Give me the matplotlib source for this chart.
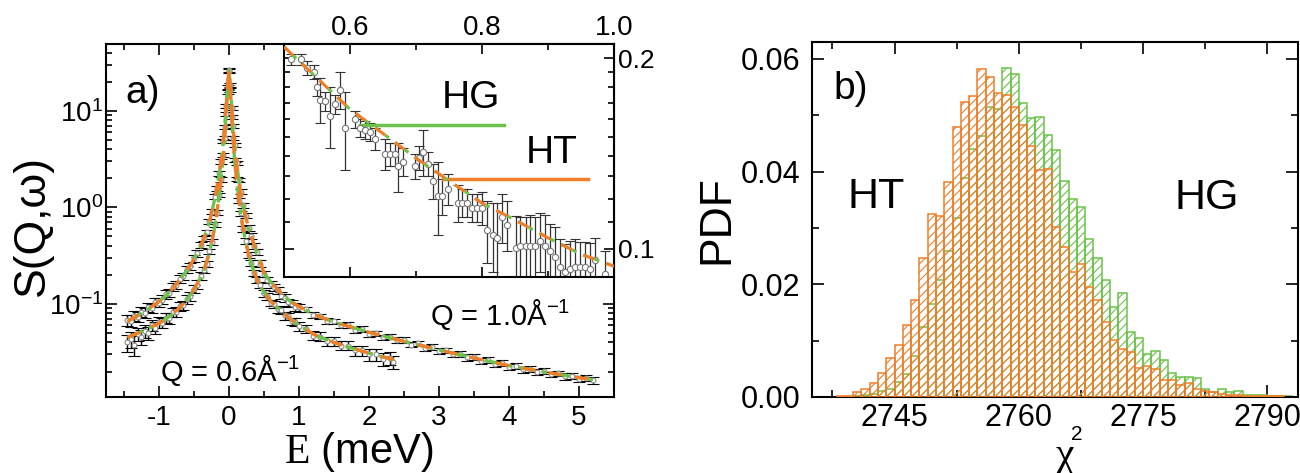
import matplotlib
matplotlib.use("Agg")
import matplotlib.pyplot as plt
from matplotlib import ticker

plt.rcParams['font.family'] = 'Liberation Sans'
plt.rcParams['mathtext.fontset'] = 'custom'
plt.rcParams['mathtext.rm'] = 'Liberation Serif'
plt.rcParams['axes.unicode_minus'] = False
plt.rcParams['hatch.linewidth'] = 0.8

ORANGE = '#f07d28'
GREEN = '#6cc24a'

# ---- panel a: data points, Q = 1.0 A^-1 ----
e_q10 = [-1.45, -1.40, -1.35, -1.30, -1.25, -1.20, -1.15, -1.10, -1.05, -1.00, -0.95,
         -0.90, -0.85, -0.80, -0.75, -0.70, -0.65, -0.60, -0.55, -0.50, -0.45, -0.40,
         -0.36, -0.32, -0.28, -0.24, -0.20, -0.17, -0.14, -0.11, -0.08, -0.06, -0.04,
         -0.02, 0.00, 0.02, 0.04, 0.06, 0.08, 0.11, 0.14, 0.17, 0.20, 0.24, 0.28, 0.32, 0.36,
         0.40, 0.45, 0.50, 0.55, 0.60, 0.65, 0.70, 0.75, 0.80, 0.85, 0.90, 0.95, 1.00,
         1.1, 1.2, 1.3, 1.4, 1.5, 1.6, 1.7, 1.8, 1.9, 2.0, 2.1, 2.2, 2.3, 2.4, 2.5, 2.6,
         2.7, 2.8, 2.9, 3.0, 3.1, 3.2, 3.3, 3.4, 3.5, 3.6, 3.7, 3.8, 3.9, 4.0, 4.1, 4.2,
         4.3, 4.4, 4.5, 4.6, 4.7, 4.8, 4.9, 5.0, 5.1, 5.2]
s_q10 = [0.068, 0.067, 0.075, 0.074, 0.083, 0.081, 0.092, 0.090, 0.104, 0.103, 0.111,
         0.126, 0.130, 0.150, 0.157, 0.182, 0.193, 0.229, 0.246, 0.297, 0.333, 0.410,
         0.48, 0.55, 0.72, 0.90, 1.29, 1.58, 2.25, 3.0, 4.9, 6.8, 11.3,
         17.5, 26.5, 18.4, 10.7, 7.0, 4.4, 2.9, 1.91, 1.45, 1.05, 0.82, 0.61, 0.51, 0.40,
         0.345, 0.262, 0.205, 0.178, 0.160, 0.149, 0.139, 0.122, 0.116, 0.104, 0.101, 0.093, 0.092,
         0.088, 0.077, 0.075, 0.067, 0.066, 0.060, 0.061, 0.054, 0.055, 0.049, 0.050, 0.045,
         0.046, 0.042, 0.042, 0.038, 0.039, 0.035, 0.036, 0.0325, 0.033, 0.030, 0.0305,
         0.028, 0.0282, 0.0258, 0.0262, 0.0240, 0.0244, 0.0222, 0.0228, 0.0210, 0.0214,
         0.0199, 0.0203, 0.0187, 0.0191, 0.0178, 0.0181, 0.0169, 0.0172, 0.0162]
ds_q10 = [0.009, 0.009, 0.009, 0.009, 0.010, 0.010, 0.010, 0.010, 0.011, 0.011, 0.012,
          0.013, 0.013, 0.014, 0.015, 0.016, 0.017, 0.019, 0.021, 0.024, 0.027, 0.031,
          0.03, 0.035, 0.04, 0.05, 0.07, 0.09, 0.12, 0.16, 0.25, 0.35, 0.55,
          0.9, 1.3, 0.9, 0.55, 0.35, 0.23, 0.15, 0.10, 0.08, 0.06, 0.05, 0.04, 0.035, 0.03,
          0.025, 0.02, 0.015, 0.014, 0.013, 0.012, 0.011, 0.010, 0.010, 0.009, 0.009, 0.009, 0.009,
          0.005, 0.005, 0.0045, 0.0045, 0.004, 0.004, 0.004, 0.0035, 0.0035, 0.003, 0.003,
          0.003, 0.003, 0.003, 0.003, 0.0025, 0.0025, 0.0025, 0.0025, 0.0022, 0.0022, 0.002,
          0.002, 0.002, 0.002, 0.0018, 0.0018, 0.0017, 0.0017, 0.0016, 0.0016, 0.0015,
          0.0015, 0.0014, 0.0014, 0.0013, 0.0013, 0.0013, 0.0012, 0.0012, 0.0012, 0.0012]

# ---- panel a: data points, Q = 0.6 A^-1 ----
e_q06 = [-1.45, -1.40, -1.35, -1.30, -1.25, -1.20, -1.15, -1.10, -1.05, -1.00, -0.95,
         -0.90, -0.85, -0.80, -0.75, -0.70, -0.65, -0.60, -0.55, -0.50, -0.45, -0.40,
         -0.36, -0.32, -0.28, -0.24, -0.20, -0.17, -0.14, -0.11, -0.08, -0.06, -0.04,
         -0.02, 0.00, 0.02, 0.04, 0.06, 0.08, 0.11, 0.14, 0.17, 0.20, 0.24, 0.28, 0.32, 0.36,
         0.40, 0.45, 0.50, 0.55, 0.60, 0.65, 0.70, 0.75, 0.80, 0.85, 0.90, 0.95, 1.00,
         1.1, 1.2, 1.3, 1.4, 1.5, 1.6, 1.7, 1.8, 1.9, 2.0, 2.1, 2.2, 2.3, 2.35]
s_q06 = [0.040, 0.043, 0.038, 0.049, 0.046, 0.052, 0.050, 0.060, 0.057, 0.065, 0.064,
         0.072, 0.071, 0.082, 0.083, 0.095, 0.097, 0.113, 0.121, 0.144, 0.159, 0.196,
         0.225, 0.262, 0.35, 0.44, 0.67, 0.88, 1.34, 1.95, 3.5, 5.2, 9.3,
         15.6, 25.5, 16.4, 8.6, 5.25, 3.1, 1.96, 1.19, 0.87, 0.60, 0.45, 0.32, 0.265, 0.21,
         0.176, 0.156, 0.129, 0.120, 0.103, 0.099, 0.088, 0.086, 0.076, 0.075, 0.066, 0.065, 0.059,
         0.055, 0.047, 0.046, 0.041, 0.041, 0.037, 0.037, 0.033, 0.033, 0.030, 0.030, 0.027,
         0.0275, 0.025]
ds_q06 = [0.008, 0.008, 0.009, 0.008, 0.008, 0.008, 0.008, 0.008, 0.008, 0.008, 0.008,
          0.009, 0.009, 0.009, 0.010, 0.010, 0.011, 0.012, 0.013, 0.015, 0.016, 0.019,
          0.015, 0.018, 0.022, 0.028, 0.04, 0.05, 0.07, 0.10, 0.18, 0.27, 0.45,
          0.8, 1.2, 0.8, 0.45, 0.27, 0.17, 0.10, 0.07, 0.05, 0.04, 0.03, 0.022, 0.018, 0.015,
          0.012, 0.011, 0.010, 0.009, 0.008, 0.008, 0.007, 0.007, 0.007, 0.006, 0.006, 0.006, 0.006,
          0.005, 0.005, 0.005, 0.004, 0.004, 0.004, 0.004, 0.004, 0.004, 0.004, 0.004, 0.004,
          0.004, 0.004]

# ---- panel a: fitted curves (HT and HG coincide on this scale) ----
fit_e_q10 = [-1.45, -1.30, -1.15, -1.00, -0.90, -0.80, -0.70, -0.60, -0.50, -0.40, -0.36,
             -0.32, -0.28, -0.24, -0.20, -0.17, -0.14, -0.11, -0.08, -0.06, -0.04, -0.02,
             0.0, 0.02, 0.04, 0.06, 0.08, 0.11, 0.14, 0.17, 0.20, 0.24, 0.28, 0.32, 0.36,
             0.40, 0.45, 0.50, 0.60, 0.70, 0.80, 0.90, 1.00, 1.25, 1.5, 2.0, 2.5, 3.0, 3.5,
             4.0, 4.5, 5.0, 5.2]
fit_s_q10 = [0.066, 0.076, 0.089, 0.106, 0.122, 0.145, 0.178, 0.222, 0.290, 0.400, 0.47,
             0.57, 0.70, 0.92, 1.25, 1.62, 2.2, 3.1, 4.8, 7.0, 11, 18,
             26, 18, 11, 6.8, 4.5, 2.85, 1.95, 1.42, 1.08, 0.80, 0.62, 0.50, 0.41,
             0.34, 0.27, 0.21, 0.168, 0.140, 0.118, 0.104, 0.094, 0.076, 0.065, 0.051, 0.041,
             0.0335, 0.0276, 0.023, 0.0198, 0.0173, 0.0165]
fit_e_q06 = [-1.45, -1.30, -1.15, -1.00, -0.90, -0.80, -0.70, -0.60, -0.50, -0.40, -0.36,
             -0.32, -0.28, -0.24, -0.20, -0.17, -0.14, -0.11, -0.08, -0.06, -0.04, -0.02,
             0.0, 0.02, 0.04, 0.06, 0.08, 0.11, 0.14, 0.17, 0.20, 0.24, 0.28, 0.32, 0.36,
             0.40, 0.45, 0.50, 0.60, 0.70, 0.80, 0.90, 1.00, 1.25, 1.5, 1.75, 2.0, 2.35]
fit_s_q06 = [0.045, 0.050, 0.056, 0.063, 0.070, 0.079, 0.092, 0.110, 0.140, 0.190, 0.22,
             0.27, 0.34, 0.45, 0.65, 0.90, 1.30, 2.0, 3.4, 5.3, 9.0, 16,
             25, 16, 8.8, 5.1, 3.2, 1.9, 1.22, 0.85, 0.62, 0.44, 0.33, 0.26, 0.215,
             0.18, 0.152, 0.132, 0.106, 0.090, 0.078, 0.068, 0.060, 0.047, 0.040, 0.035,
             0.031, 0.0265]

# ---- inset: zoom of Q = 1.0 data ----
in_e = [0.510, 0.525, 0.535, 0.545, 0.550, 0.555, 0.562, 0.570, 0.577, 0.585, 0.592,
        0.608, 0.615, 0.623, 0.630, 0.638, 0.653, 0.660, 0.668, 0.673, 0.680, 0.698,
        0.705, 0.710, 0.718, 0.725, 0.733, 0.740, 0.748, 0.763, 0.770, 0.778, 0.785,
        0.793, 0.800, 0.808, 0.816, 0.823, 0.831, 0.838, 0.851, 0.858, 0.866, 0.873,
        0.881, 0.888, 0.896, 0.903, 0.911, 0.918, 0.926, 0.933, 0.941, 0.948, 0.956,
        0.963, 0.971, 0.986]
in_s = [0.199, 0.199, 0.193, 0.190, 0.180, 0.172, 0.171, 0.162, 0.169, 0.178, 0.155,
        0.160, 0.155, 0.154, 0.153, 0.149, 0.141, 0.141, 0.141, 0.135, 0.137, 0.135,
        0.139, 0.142, 0.136, 0.128, 0.121, 0.121, 0.124, 0.118, 0.118, 0.118, 0.116,
        0.116, 0.116, 0.107, 0.105, 0.104, 0.112, 0.109, 0.1004, 0.101, 0.101, 0.101,
        0.101, 0.103, 0.101, 0.0993, 0.0970, 0.0935, 0.0918, 0.0929, 0.0935, 0.0935, 0.0935,
        0.0929, 0.0958, 0.0912]
in_ds = [0.004, 0.004, 0.005, 0.005, 0.006, 0.014, 0.006, 0.018, 0.006, 0.012, 0.022,
         0.005, 0.005, 0.005, 0.005, 0.006, 0.008, 0.006, 0.006, 0.012, 0.007, 0.006,
         0.006, 0.012, 0.006, 0.008, 0.016, 0.008, 0.007, 0.008, 0.006, 0.006, 0.006,
         0.006, 0.007, 0.012, 0.013, 0.014, 0.010, 0.010, 0.012, 0.011, 0.011, 0.012,
         0.011, 0.011, 0.012, 0.010, 0.011, 0.010, 0.010, 0.010, 0.010, 0.009, 0.009,
         0.009, 0.008, 0.008]
in_fit_e = [0.50, 0.55, 0.60, 0.65, 0.70, 0.75, 0.80, 0.85, 0.90, 0.95, 1.00]
in_fit_s = [0.2083, 0.186, 0.166, 0.152, 0.139, 0.128, 0.118, 0.111, 0.104, 0.098, 0.0938]

# ---- panel b: chi^2 histograms (bin left edges, width 1) ----
ht_bins = list(range(2738, 2792))
ht_pdf = [0.0002, 0.0002, 0.0009, 0.0015, 0.0024, 0.0043, 0.0069, 0.0092, 0.0128, 0.0173,
          0.0246, 0.0324, 0.0322, 0.0381, 0.0479, 0.0524, 0.0535, 0.0582, 0.0568, 0.0540,
          0.0536, 0.0515, 0.0483, 0.0446, 0.0403, 0.0405, 0.0302, 0.0267, 0.0222, 0.0236,
          0.0196, 0.0172, 0.0133, 0.0102, 0.0085, 0.0079, 0.0051, 0.0055, 0.0050, 0.0030,
          0.0030, 0.0022, 0.0024, 0.0015, 0.0010, 0.0008, 0.0005, 0.0004, 0.0003, 0.0002,
          0.0002, 0.0002, 0.0001, 0.0001]
hg_bins = list(range(2740, 2793))
hg_pdf = [0.0002, 0.0003, 0.0005, 0.0010, 0.0014, 0.0027, 0.0041, 0.0072, 0.0124, 0.0165,
          0.0208, 0.0259, 0.0318, 0.0388, 0.0440, 0.0463, 0.0514, 0.0511, 0.0583, 0.0573,
          0.0521, 0.0496, 0.0497, 0.0465, 0.0438, 0.0383, 0.0351, 0.0337, 0.0280, 0.0246,
          0.0208, 0.0160, 0.0184, 0.0116, 0.0104, 0.0076, 0.0082, 0.0066, 0.0042, 0.0036,
          0.0036, 0.0033, 0.0015, 0.0009, 0.0015, 0.0009, 0.0011, 0.0004, 0.0003, 0.0004,
          0.0002, 0.0002, 0.0001]


def style_axis(ax, major_len, minor_len, size, pad):
    for sp in ax.spines.values():
        sp.set_linewidth(1.5)
    ax.tick_params(which='both', direction='in', top=True, right=True, width=1.2,
                   labelsize=size, pad=pad)
    ax.tick_params(which='major', length=major_len)
    ax.tick_params(which='minor', length=minor_len)


fig = plt.figure(figsize=(13, 4.73), dpi=100)

# ================= panel a =================
ax = fig.add_axes([0.0813, 0.1607, 0.3910, 0.7463])
ax.set_yscale('log')
for e, s, ds in [(e_q10, s_q10, ds_q10), (e_q06, s_q06, ds_q06)]:
    ax.errorbar(e, s, yerr=ds, fmt='o', ms=3.5, mfc='white', mec='#8a8a8a', mew=0.8,
                ecolor='black', elinewidth=1.0, capsize=4.5, capthick=1.0, zorder=2)
for fe, fs in [(fit_e_q10, fit_s_q10), (fit_e_q06, fit_s_q06)]:
    ax.plot(fe, fs, color=GREEN, lw=2.4, ls=(0, (5, 2, 1.5, 2)), zorder=3)
    ax.plot(fe, fs, color=ORANGE, lw=2.4, ls=(0, (4, 4)), zorder=4)
ax.set_xlim(-1.76, 5.5)
ax.set_ylim(0.0109, 49)
ax.xaxis.set_major_locator(ticker.MultipleLocator(1))
ax.xaxis.set_minor_locator(ticker.MultipleLocator(0.5))
ax.yaxis.set_minor_formatter(ticker.NullFormatter())
style_axis(ax, 8, 4.3, 20, 6)
ax.tick_params(axis='y', which='both', pad=2, labelsize=20)
ax.text(0.038, 0.861, 'a)', transform=ax.transAxes, fontsize=28, va='center', ha='left')
ax.text(0.107, 0.045, 'Q = 0.6Å$^{\\mathdefault{-1}}$', transform=ax.transAxes,
        fontsize=21, va='baseline', ha='left')
ax.text(0.638, 0.204, 'Q = 1.0Å$^{\\mathdefault{-1}}$', transform=ax.transAxes,
        fontsize=21, va='baseline', ha='left')

# inset
axi = fig.add_axes([0.2185, 0.4144, 0.2538, 0.4926])
axi.set_yscale('log')
axi.errorbar(in_e, in_s, yerr=in_ds, fmt='o', ms=4.5, mfc='white', mec='#777777', mew=0.8,
             ecolor='#333333', elinewidth=0.9, capsize=3.5, capthick=0.9, zorder=2)
axi.plot(in_fit_e, in_fit_s, color=GREEN, lw=2.2, ls=(0, (1.5, 2.5)), zorder=3)
axi.plot(in_fit_e, in_fit_s, color=ORANGE, lw=2.2, ls=(0, (4, 4)), zorder=4)
axi.set_xlim(0.5, 1.0)
axi.set_ylim(0.0902, 0.2105)
axi.xaxis.set_major_locator(ticker.FixedLocator([0.6, 0.8, 1.0]))
axi.xaxis.set_minor_locator(ticker.FixedLocator([0.5, 0.7, 0.9]))
axi.xaxis.set_major_formatter(ticker.FormatStrFormatter('%.1f'))
axi.yaxis.set_major_locator(ticker.FixedLocator([0.1, 0.2]))
axi.yaxis.set_minor_locator(ticker.FixedLocator([0.11, 0.12, 0.13, 0.14, 0.15, 0.16,
                                                 0.17, 0.18, 0.19]))
axi.yaxis.set_major_formatter(ticker.FormatStrFormatter('%.1f'))
axi.yaxis.set_minor_formatter(ticker.NullFormatter())
style_axis(axi, 7, 4, 20, 2)
axi.tick_params(axis='x', labeltop=True, labelbottom=False)
axi.tick_params(axis='y', labelright=True, labelleft=False, pad=3, labelsize=19)
axi.plot([0.231, 0.666], [0.654, 0.654], color=GREEN, lw=2.5, transform=axi.transAxes)
axi.plot([0.483, 0.921], [0.419, 0.419], color=ORANGE, lw=2.5, transform=axi.transAxes)
axi.text(0.565, 0.769, 'HG', transform=axi.transAxes, fontsize=28, ha='center', va='center')
axi.text(0.812, 0.530, 'HT', transform=axi.transAxes, fontsize=28, ha='center', va='center')

fig.text(32 / 1300, 1 - 225 / 473, 'S(Q,ω)', rotation=90, fontsize=32,
         ha='center', va='center')
fig.text(359 / 1300, 1 - 452 / 473, '$\\mathrm{E}$ (meV)', fontsize=30,
         ha='center', va='center')

# ================= panel b =================
axb = fig.add_axes([0.6244, 0.1607, 0.3741, 0.7505])
axb.bar(hg_bins, hg_pdf, width=1.0, align='edge', fill=False, edgecolor=GREEN,
        hatch='////', linewidth=1.1, zorder=2)
axb.bar(ht_bins, ht_pdf, width=1.0, align='edge', fill=False, edgecolor=ORANGE,
        hatch='////', linewidth=1.1, zorder=3)
axb.set_xlim(2735, 2793.7)
axb.set_ylim(0, 0.063)
axb.xaxis.set_major_locator(ticker.MultipleLocator(15))
axb.xaxis.set_minor_locator(ticker.MultipleLocator(7.5))
axb.yaxis.set_major_locator(ticker.MultipleLocator(0.02))
axb.yaxis.set_minor_locator(ticker.MultipleLocator(0.01))
axb.yaxis.set_major_formatter(ticker.FormatStrFormatter('%.2f'))
style_axis(axb, 8.4, 5, 22, 4)
axb.tick_params(axis='y', pad=8)
axb.text(0.0438, 0.868, 'b)', transform=axb.transAxes, fontsize=28, va='center', ha='left')
axb.text(0.132, 0.563, 'HT', transform=axb.transAxes, fontsize=31, va='center', ha='center')
axb.text(0.813, 0.561, 'HG', transform=axb.transAxes, fontsize=31, va='center', ha='center')

fig.text(717 / 1300, 1 - 220 / 473, 'PDF', rotation=90, fontsize=32,
         ha='center', va='center')
fig.text(1064 / 1300, 1 - 456 / 473, 'χ', family='Liberation Serif', fontsize=30,
         ha='center', va='center')
fig.text(1077 / 1300, 1 - 434 / 473, '2', fontsize=15, ha='center', va='center')

fig.savefig('out.png', dpi=100)
